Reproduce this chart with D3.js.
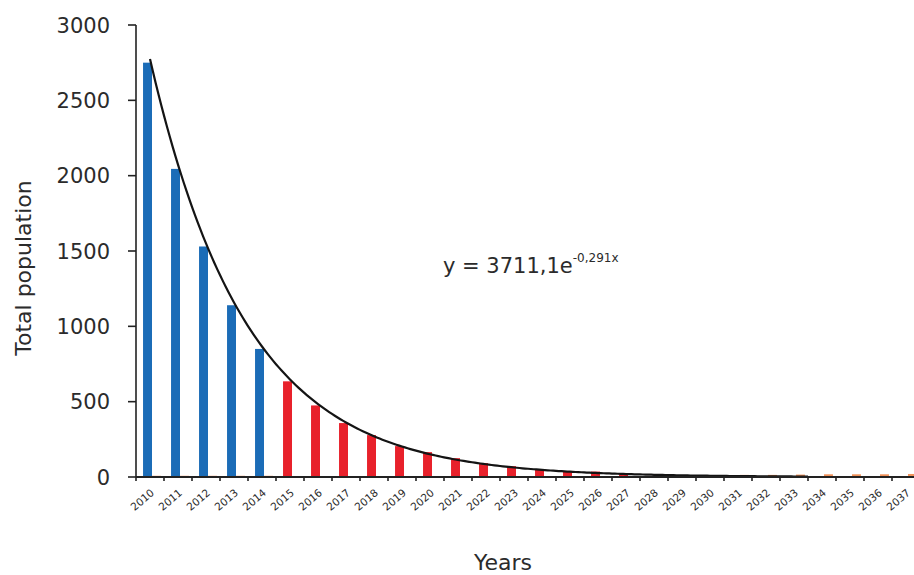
<!DOCTYPE html>
<html lang="en">

<head>
    <meta charset="UTF-8">
    <title>Total population</title>
    <script src="https://d3js.org/d3.v7.min.js"></script>
    <style>
        body,
        html {
            margin: 0px;
            background: #fff;
        }

        text {
            font-family: "DejaVu Sans", sans-serif;
            fill: #2b2b2b;
        }
    </style>
</head>

<body>
    <div id="chart"></div>

    <script>
        // data
        const years = d3.range(2010, 2038).map(String)
        const observedCount = 5   // 2010-2014 blue, the rest red
        const population = [2750, 2045, 1530, 1140, 850, 635, 475, 358, 278, 205, 165, 125, 92, 72, 50,
            35, 36, 16, 7, 3, 2, 2, 1, 0, 0, 0, 0, 0]
        const extra = [8, 8, 8, 8, 8, 6, 6, 6, 6, 6, 6, 6, 6, 6, 6,
            6, 6, 6, 6, 6, 8, 14, 14, 16, 18, 18, 18, 20]
        const yTicks = [0, 500, 1000, 1500, 2000, 2500, 3000]
        const trendA = 3711.1
        const trendB = -0.291

        const width = 914, height = 575
        const plotLeft = 136, plotRight = 920, plotTop = 25, plotBottom = 477

        const svg = d3.select('#chart').append('svg')
            .attr('width', width)
            .attr('height', height)

        const x = d3.scaleBand().domain(years).range([plotLeft + 2, plotRight + 2])
            .paddingInner(0.36).paddingOuter(0.18)
        const xb = d3.scaleBand().domain(years).range([plotLeft, plotRight])
        const x1 = d3.scaleBand().domain(['main', 'extra']).range([0, x.bandwidth()])
        const xl = d3.scaleLinear().domain([0.5, years.length + 0.5]).range([plotLeft, plotRight])
        const y = d3.scaleLinear().domain([0, 3000]).range([plotBottom, plotTop])

        // bars
        svg.append('g').selectAll('rect')
            .data(population)
            .enter().append('rect')
            .attr('x', (d, i) => x(years[i]) + x1('main'))
            .attr('width', x1.bandwidth())
            .attr('y', d => y(d))
            .attr('height', d => plotBottom - y(d))
            .attr('fill', (d, i) => i < observedCount ? '#1b6cb7' : '#e8212b')

        svg.append('g').selectAll('rect')
            .data(extra)
            .enter().append('rect')
            .attr('x', (d, i) => x(years[i]) + x1('extra'))
            .attr('width', x1.bandwidth())
            .attr('y', d => y(d))
            .attr('height', d => plotBottom - y(d))
            .attr('fill', '#f0803e')
            .attr('opacity', 0.85)

        // trend line from the fitted equation
        const trend = d3.range(1, 24.5, 0.1).concat([24.5])
            .map(t => [t, trendA * Math.exp(trendB * t)])
        svg.append('path')
            .attr('d', d3.line().x(d => xl(d[0])).y(d => y(d[1]))(trend))
            .attr('fill', 'none')
            .attr('stroke', '#141414')
            .attr('stroke-width', 2.2)

        // y axis
        const yAxis = svg.append('g')
        yAxis.append('line')
            .attr('x1', plotLeft).attr('x2', plotLeft)
            .attr('y1', y(3000)).attr('y2', plotBottom)
            .attr('stroke', '#222').attr('stroke-width', 1.6)
        yAxis.selectAll('.tick')
            .data(yTicks)
            .enter().append('line')
            .attr('x1', plotLeft - 8).attr('x2', plotLeft)
            .attr('y1', d => y(d)).attr('y2', d => y(d))
            .attr('stroke', '#222').attr('stroke-width', 1.6)
        yAxis.selectAll('text')
            .data(yTicks)
            .enter().append('text')
            .attr('x', 110)
            .attr('y', d => y(d))
            .attr('dy', '0.36em')
            .attr('text-anchor', 'end')
            .style('font-size', '21px')
            .text(d => d)

        // x axis
        const xAxis = svg.append('g')
        xAxis.append('line')
            .attr('x1', plotLeft).attr('x2', width)
            .attr('y1', plotBottom).attr('y2', plotBottom)
            .attr('stroke', '#222').attr('stroke-width', 2)
        xAxis.selectAll('.tick')
            .data(years)
            .enter().append('line')
            .attr('x1', d => xb(d)).attr('x2', d => xb(d))
            .attr('y1', plotBottom).attr('y2', plotBottom + 4)
            .attr('stroke', '#222').attr('stroke-width', 1.6)
        xAxis.selectAll('text')
            .data(years)
            .enter().append('text')
            .attr('text-anchor', 'end')
            .attr('transform', d => `translate(${xb(d) + xb.bandwidth() / 2 + 5},${plotBottom + 17}) rotate(-40)`)
            .style('font-size', '10.5px')
            .text(d => d)

        // titles
        svg.append('text')
            .attr('transform', `translate(31,${(plotTop + plotBottom) / 2 + 17}) rotate(-90)`)
            .attr('text-anchor', 'middle')
            .style('font-size', '22px')
            .text('Total population')

        svg.append('text')
            .attr('x', 503)
            .attr('y', 570)
            .attr('text-anchor', 'middle')
            .style('font-size', '22px')
            .text('Years')

        // equation
        const eq = svg.append('text')
            .attr('x', 443)
            .attr('y', 273)
            .style('font-size', '21px')
        eq.append('tspan').text('y = 3711,1e')
        eq.append('tspan')
            .attr('dy', -11)
            .style('font-size', '12px')
            .text('-0,291x')
    </script>
</body>

</html>
